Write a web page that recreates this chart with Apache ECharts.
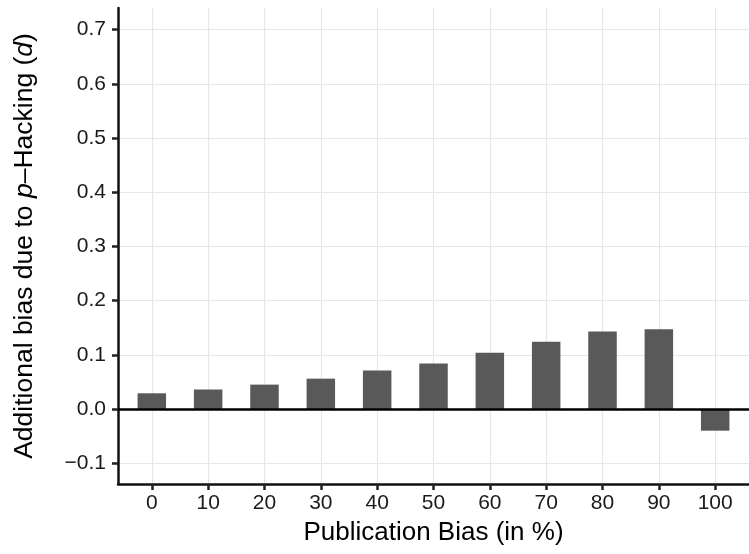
<!DOCTYPE html>
<html>
<head>
<meta charset="utf-8">
<script src="https://cdn.jsdelivr.net/npm/echarts@6/dist/echarts.min.js"></script>
<style>
	html, body { margin: 0; padding: 0; background: #fff; }
	#chart { width: 749px; height: 554px; }
</style>
</head>
<body>
<div id="chart"></div>
<script>
// publication bias levels (x)
const pubBias = [0, 10, 20, 30, 40, 50, 60, 70, 80, 90, 100];
// additional bias due to p-hacking (y)
const extraBias = [0.029, 0.036, 0.045, 0.056, 0.071, 0.084, 0.104, 0.124, 0.143, 0.147, -0.040];
// tick labels
const xTicks = [0, 10, 20, 30, 40, 50, 60, 70, 80, 90, 100];
const yTicks = [-0.1, 0, 0.1, 0.2, 0.3, 0.4, 0.5, 0.6, 0.7];

const font = 'Liberation Sans, Arial, Helvetica, sans-serif';
const gridColor = '#e6e6e6';

let myChart = echarts.init(document.getElementById('chart'));
myChart.setOption({
	animation: false,
	grid: {
		left: 118,
		right: -6,
		top: 8,
		bottom: 70
	},
	xAxis: {
		type: 'value',
		min: -6,
		max: 106,
		name: 'Publication Bias (in %)',
		nameLocation: 'middle',
		nameGap: 36,
		nameTextStyle: { fontFamily: font, fontSize: 26, color: '#000' },
		axisLine: { show: true, onZero: false, lineStyle: { color: '#111', width: 2.5 } },
		axisTick: { show: true, length: 6, customValues: xTicks, lineStyle: { color: '#222', width: 2.5 } },
		axisLabel: {
			customValues: xTicks,
			margin: 9,
			fontFamily: font,
			fontSize: 21,
			color: '#1a1a1a'
		},
		splitLine: { show: true, lineStyle: { color: gridColor, width: 1.2 } }
	},
	yAxis: {
		type: 'value',
		min: -0.1384,
		max: 0.74,
		name: '{n|Additional bias due to }{i|p}{n|\u2013Hacking (}{i|d}{n|)}',
		nameLocation: 'middle',
		nameRotate: 90,
		nameGap: 80,
		nameTextStyle: {
			rich: {
				n: { fontFamily: font, fontSize: 26.5, color: '#000' },
				i: { fontFamily: font, fontSize: 26.5, fontStyle: 'italic', color: '#000' }
			}
		},
		axisLine: { show: true, onZero: false, lineStyle: { color: '#111', width: 2.5 } },
		axisTick: { show: true, length: 6, customValues: yTicks, lineStyle: { color: '#222', width: 2.5 } },
		axisLabel: {
			customValues: yTicks,
			margin: 12,
			fontFamily: font,
			fontSize: 21,
			color: '#1a1a1a',
			formatter: function(v) {
				return v.toFixed(1).replace('-', '\u2212');
			}
		},
		splitLine: { show: true, lineStyle: { color: gridColor, width: 1.2 } }
	},
	series: [
		{
			type: 'bar',
			barWidth: 28.5,
			data: pubBias.map((x, i) => [x, extraBias[i]]),
			itemStyle: { color: '#595959' },
			markLine: {
				silent: true,
				symbol: 'none',
				label: { show: false },
				lineStyle: { color: '#000', width: 2.5, type: 'solid' },
				data: [{ yAxis: 0 }]
			}
		}
	]
});
</script>
</body>
</html>
